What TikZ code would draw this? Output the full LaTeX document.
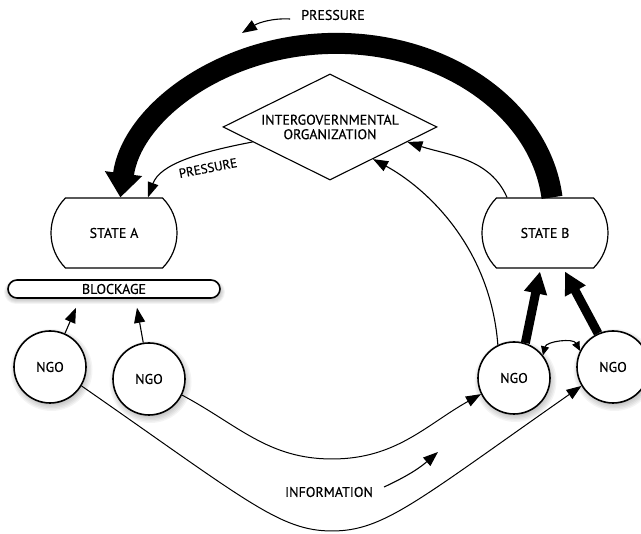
\documentclass[tikz,border=0pt]{standalone}
\usepackage{fontspec}
\setmainfont{PT Sans}[FakeBold=0.35]
\usetikzlibrary{arrows.meta,shapes.geometric,shapes.misc,calc}

\begin{document}
\begin{tikzpicture}[x=1pt,y=1pt,
  every node/.style={font=\fontsize{14}{14.5}\selectfont},
  statebox/.style={draw, line width=1.2pt, rounded rectangle,
    rounded rectangle arc length=90, minimum width=126pt,
    minimum height=70pt, inner sep=0pt, fill=white},
  ngo/.style={draw, circle, line width=1.6pt, minimum size=72pt,
    inner sep=0pt, fill=white},
  igo/.style={draw, diamond, aspect=2, line width=1.1pt,
    minimum width=214pt, minimum height=106pt, inner sep=0pt, align=center},
  blockbar/.style={draw, rounded rectangle, line width=1.6pt,
    minimum width=212pt, minimum height=18pt, inner sep=0pt, fill=white},
  lbl/.style={inner sep=0pt},
  link/.style={line width=1.1pt, -{Triangle[length=15pt,width=11pt]}},
  heavy/.style={line width=9pt, -{Triangle[length=22pt,width=22pt]}},
  bigpress/.style={line width=21pt, -{Triangle[length=24pt,width=36pt]}},
  twoway/.style={line width=1.1pt,
    {Triangle[length=9pt,width=8pt]}-{Triangle[length=9pt,width=8pt]}},
  softshade/.style={fill=black, opacity=0.045},
]
\useasboundingbox (0,0) rectangle (641,534);

% centres of the four NGO circles and of the blockage bar
\coordinate (c1) at (50,167);
\coordinate (c2) at (149,155);
\coordinate (c3) at (514,156);
\coordinate (c4) at (613,167);
\coordinate (cb) at (114,245);

% soft shadows under the circles and the bar
\foreach \c in {c1,c2,c3,c4}{
  \foreach \k in {0,...,5}{
    \fill[softshade] ($(\c)+(1.5,-3)$) circle ({34+\k*1.4});
  }
}
\foreach \k in {0,...,4}{
  \fill[softshade, rounded corners={8+\k}]
    ($(cb)+(-106-\k,-11-\k)$) rectangle ($(cb)+(107+\k,5+\k)$);
}

% actors
\node[statebox] (sa) at (114,301) {STATE A};
\node[statebox] (sb) at (545,301) {STATE B};
\node[blockbar] (bk) at (cb) {BLOCKAGE};
\node[igo] (igo) at (330,407) {INTERGOVERNMENTAL\\ORGANIZATION};
\node[ngo] (n1) at (c1) {NGO};
\node[ngo] (n2) at (c2) {NGO};
\node[ngo] (n3) at (c3) {NGO};
\node[ngo] (n4) at (c4) {NGO};

% labels
\node[lbl] (ptop) at (333,519) {PRESSURE};
\node[lbl, rotate=11, font=\fontsize{13}{14}\selectfont] (pmid) at (208,366) {PRESSURE};
\node[lbl] (info) at (329,42) {INFORMATION};

% free ends of the small label arrows
\coordinate (ptip) at (242,501);
\coordinate (itip) at (438,82);

% heavy pressure from State B round to State A
\draw[bigpress] ([xshift=7pt]sb.north)
  arc[start angle=6, end angle=174, x radius=217, y radius=172];

% pressure from the organization onto State A
\draw[link] ($(igo.west)!0.28!(igo.south)$)
  .. controls (200,382) and (160,370) .. ([xshift=34pt]sa.north);

% State B and an NGO lobbying the organization
\draw[link] ([xshift=-38pt]sb.north)
  .. controls (490,376) and (447,379) .. ($(igo.south)!0.72!(igo.east)$);
\draw[link] (n3.116)
  .. controls (490,290) and (423,348) .. ($(igo.south)!0.4!(igo.east)$);

% NGOs pressing State B
\draw[heavy] (n3.72) -- ([xshift=-5pt,yshift=-3pt]sb.south);
\draw[heavy] (n4.114) -- ([xshift=20pt,yshift=-3pt]sb.south);
\draw[twoway] (n3.38) to[bend left=70] (n4.154);

% NGOs blocked at State A
\draw[link] (n1.66) -- ([xshift=-38pt,yshift=-9pt]bk.south);
\draw[link] (n2.99) -- ([xshift=23pt,yshift=-9pt]bk.south);

% information flows between the NGO networks
\draw[link, line width=1pt] (n2.-26)
  .. controls (238,109) and (268,75) .. (332,75)
  .. controls (396,75) and (426,109) .. (n3.206);
\draw[link, line width=1pt] (n1.-31)
  .. controls (247,33) and (280,3) .. (332,3)
  .. controls (384,3) and (417,33) .. (n4.211);

% small direction arrows beside the labels
\draw[link] ([xshift=-11pt,yshift=-4pt]ptop.west)
  .. controls (272,516) and (258,511) .. (ptip);
\draw[link] ([xshift=11pt,yshift=5pt]info.east) to[bend right=8] (itip);
\end{tikzpicture}
\end{document}
